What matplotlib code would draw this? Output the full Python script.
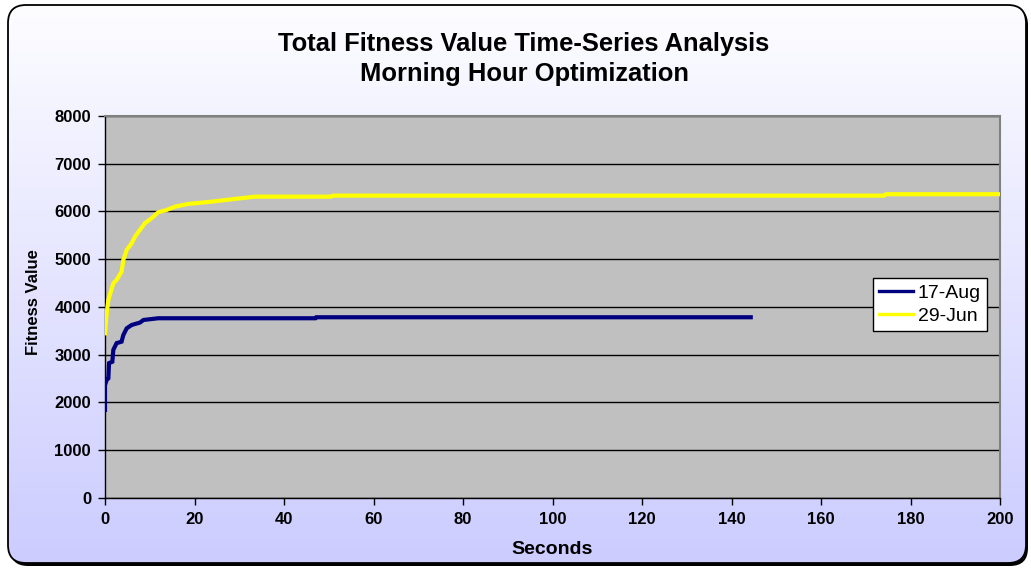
import numpy as np
import matplotlib
matplotlib.use("Agg")
import matplotlib.pyplot as plt
from matplotlib.patches import FancyBboxPatch
from matplotlib.colors import LinearSegmentedColormap

plt.rcParams['font.family'] = ['Liberation Sans', 'DejaVu Sans']

# run of 17-Aug (seconds, fitness)
aug_t = [0, 0, 0.37, 0.75, 0.9, 1.64, 1.86, 2.6, 3.7, 4.1, 4.85, 5.96, 7.8, 8.6, 11.9,
         47.0, 47.2, 144.3]
aug_v = [1840, 2360, 2470, 2500, 2820, 2850, 3100, 3240, 3270, 3410, 3550, 3620, 3670, 3725, 3761,
         3761, 3782, 3782]

# run of 29-Jun (seconds, fitness)
jun_t = [0, 0.37, 0.75, 1.86, 2.6, 3.7, 4.1, 4.85, 5.96, 6.7, 7.8, 8.9, 10.4, 11.9,
         13.8, 15.7, 18.6, 23.9, 29.0, 33.6, 50.5, 50.9, 174.1, 174.5, 200]
jun_v = [3446, 3866, 4145, 4495, 4565, 4738, 4983, 5193, 5333, 5472, 5612, 5752, 5857, 5983,
         6031, 6101, 6157, 6205, 6262, 6310, 6310, 6331, 6331, 6361, 6361]

x_ticks = list(range(0, 201, 20))
y_ticks = list(range(0, 8001, 1000))

W, H = 1031, 569
fig = plt.figure(figsize=(W / 100, H / 100), dpi=100)
fig.patch.set_facecolor('white')

# chart-area background: rounded frame, drop shadow, white->lavender gradient
bg = fig.add_axes([0, 0, 1, 1])
bg.set_xlim(0, W)
bg.set_ylim(H, 0)
bg.axis('off')
box = dict(boxstyle="round,pad=0,rounding_size=18")
shadow = FancyBboxPatch((10, 7), 1018, 559, fc='black', ec='none', **box)
bg.add_patch(shadow)
frame = FancyBboxPatch((8, 5), 1018, 558, fc='white', ec='none', **box)
bg.add_patch(frame)
cmap = LinearSegmentedColormap.from_list('bgfade', ['#FDFDFF', '#CCCCFF'])
grad = np.linspace(0, 1, 256).reshape(-1, 1)
im = bg.imshow(grad, cmap=cmap, aspect='auto', extent=(8, 1026, 563, 5),
               origin='upper', zorder=2)
im.set_clip_path(frame)
edge = FancyBboxPatch((8, 5), 1018, 558, fc='none', ec='black', lw=1.3, zorder=3, **box)
bg.add_patch(edge)

ax = fig.add_axes([105 / W, 1 - 497.7 / H, 895 / W, (497.7 - 116) / H])
ax.set_facecolor('#C0C0C0')
ax.plot(aug_t, aug_v, color='#000080', lw=3, label='17-Aug',
        solid_joinstyle='miter', zorder=3)
ax.plot(jun_t, jun_v, color='#FFFF00', lw=3, label='29-Jun',
        solid_joinstyle='miter', zorder=3)

ax.set_xlim(0, 200)
ax.set_ylim(0, 8000)
ax.set_xticks(x_ticks)
ax.set_yticks(y_ticks)
ax.yaxis.grid(True, color='black', lw=1)
ax.set_axisbelow(True)
for s in ('left', 'bottom'):
    ax.spines[s].set_color('black')
    ax.spines[s].set_linewidth(1)
for s in ('top', 'right'):
    ax.spines[s].set_color('#808080')
    ax.spines[s].set_linewidth(1.5)
ax.tick_params(direction='out', length=5, width=1, color='black', labelsize=12, pad=5)
for lab in ax.get_xticklabels() + ax.get_yticklabels():
    lab.set_fontweight('bold')

fig.text(524 / W, 1 - 51 / H, 'Total Fitness Value Time-Series Analysis', ha='center',
         va='baseline', fontsize=18.4, fontweight='bold')
fig.text(524 / W, 1 - 81.5 / H, 'Morning Hour Optimization', ha='center',
         va='baseline', fontsize=18.4, fontweight='bold')
fig.text(33 / W, 1 - 302 / H, 'Fitness Value', rotation=90, ha='center', va='center',
         fontsize=12, fontweight='bold')
fig.text(552 / W, 1 - 549 / H, 'Seconds', ha='center', va='center',
         fontsize=14, fontweight='bold')

leg = ax.legend(loc='center', bbox_to_anchor=(930 / W, 1 - 304.5 / H),
                bbox_transform=fig.transFigure, fontsize=14, frameon=True,
                fancybox=False, framealpha=1, edgecolor='black',
                handlelength=1.75, handletextpad=0.26, borderpad=0.3,
                labelspacing=0.3, borderaxespad=0)
leg.get_frame().set_linewidth(1)
for h in leg.get_lines():
    h.set_linewidth(2.4)

fig.savefig('out.png', dpi=100, facecolor='white')
